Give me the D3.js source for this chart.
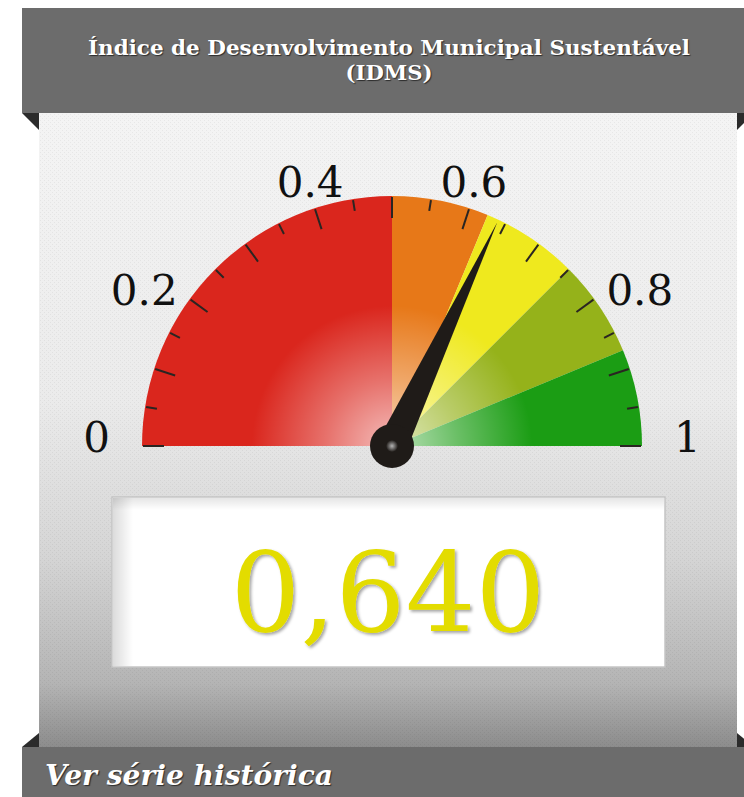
<!DOCTYPE html>
<html>
<head>
<meta charset="utf-8">
<script src="https://cdn.jsdelivr.net/npm/d3@7"></script>
<style>
  body { margin: 0; background: #fff; }
  svg { display: block; }
</style>
</head>
<body>
<div id="chart"></div>
<script>
// gauge data
var bandLimits = [0, 0.5, 0.625, 0.75, 0.875, 1];
var bandColors = ["#da261d", "#e77818", "#efe91e", "#95b21a", "#1b9d14"];
var tickValues = d3.range(0, 21).map(function (i) { return i / 20; });
var labelValues = [0, 0.2, 0.4, 0.6, 0.8, 1];
var labelTexts = ["0", "0.2", "0.4", "0.6", "0.8", "1"];
var idmsValue = 0.640;
var idmsText = "0,640";
var titleLines = ["Índice de Desenvolvimento Municipal Sustentável", "(IDMS)"];
var footerText = "Ver série histórica";

var w = 744;
var h = 797;
var cx = 392, cy = 446, r = 250;

var svg = d3.select("#chart")
    .append("svg")
    .attr("width", w)
    .attr("height", h);

var defs = svg.append("defs");

var bodyGrad = defs.append("linearGradient")
    .attr("id", "bodyGrad")
    .attr("x1", 0).attr("y1", 0).attr("x2", 0).attr("y2", 1);
[[0, "#f4f4f4"], [0.45, "#ebebeb"], [0.7, "#d5d5d5"], [0.9, "#b4b4b4"], [1, "#8c8c8c"]].forEach(function (s) {
    bodyGrad.append("stop").attr("offset", s[0]).attr("stop-color", s[1]);
});

var hatch = defs.append("pattern")
    .attr("id", "hatch")
    .attr("width", 4).attr("height", 4)
    .attr("patternUnits", "userSpaceOnUse");
hatch.append("rect").attr("x", 0).attr("y", 0).attr("width", 1).attr("height", 1).attr("fill", "rgba(0,0,0,0.05)");
hatch.append("rect").attr("x", 2).attr("y", 2).attr("width", 1).attr("height", 1).attr("fill", "rgba(0,0,0,0.05)");

// glow is drawn inside the translated gauge group, so it is centred on 0,0
var glow = defs.append("radialGradient")
    .attr("id", "glow")
    .attr("gradientUnits", "userSpaceOnUse")
    .attr("cx", 0).attr("cy", 0).attr("r", 165);
glow.append("stop").attr("offset", 0).attr("stop-color", "#fff").attr("stop-opacity", 0.7);
glow.append("stop").attr("offset", 0.4).attr("stop-color", "#fff").attr("stop-opacity", 0.35);
glow.append("stop").attr("offset", 0.85).attr("stop-color", "#fff").attr("stop-opacity", 0);

var hubGrad = defs.append("radialGradient").attr("id", "hubGrad");
hubGrad.append("stop").attr("offset", 0).attr("stop-color", "#b5b5b5");
hubGrad.append("stop").attr("offset", 1).attr("stop-color", "#1f1b18");

var leftShade = defs.append("linearGradient").attr("id", "leftShade")
    .attr("x1", 0).attr("y1", 0).attr("x2", 1).attr("y2", 0);
leftShade.append("stop").attr("offset", 0).attr("stop-color", "#000").attr("stop-opacity", 0.14);
leftShade.append("stop").attr("offset", 1).attr("stop-color", "#000").attr("stop-opacity", 0);
var topShade = defs.append("linearGradient").attr("id", "topShade")
    .attr("x1", 0).attr("y1", 0).attr("x2", 0).attr("y2", 1);
topShade.append("stop").attr("offset", 0).attr("stop-color", "#000").attr("stop-opacity", 0.10);
topShade.append("stop").attr("offset", 1).attr("stop-color", "#000").attr("stop-opacity", 0);

var textShadow = defs.append("filter").attr("id", "tshadow")
    .attr("x", "-10%").attr("y", "-10%").attr("width", "120%").attr("height", "130%");
textShadow.append("feDropShadow")
    .attr("dx", 2).attr("dy", 2).attr("stdDeviation", 1.5)
    .attr("flood-color", "#000").attr("flood-opacity", 0.35);

// card body
svg.append("rect")
    .attr("x", 39).attr("y", 113).attr("width", 698).attr("height", 634)
    .attr("fill", "url(#bodyGrad)");
svg.append("rect")
    .attr("x", 39).attr("y", 113).attr("width", 698).attr("height", 634)
    .attr("fill", "url(#hatch)");

// folded corners
svg.append("path").attr("d", "M22,113 L39,113 L39,130 Z").attr("fill", "#2b2b2b");
svg.append("path").attr("d", "M737,113 L754,113 L737,130 Z").attr("fill", "#2b2b2b");
svg.append("path").attr("d", "M22,747 L39,733 L39,747 Z").attr("fill", "#2b2b2b");
svg.append("path").attr("d", "M737,733 L754,747 L737,747 Z").attr("fill", "#2b2b2b");

// header
svg.append("rect")
    .attr("x", 22).attr("y", 8).attr("width", 732).attr("height", 105)
    .attr("fill", "#6c6c6c");
svg.selectAll(".title")
    .data(titleLines)
    .enter()
    .append("text")
    .attr("class", "title")
    .attr("x", 389)
    .attr("y", function (d, i) { return 55 + i * 25; })
    .attr("text-anchor", "middle")
    .attr("font-family", "'DejaVu Serif', 'Liberation Serif', serif")
    .attr("font-weight", "bold")
    .attr("font-size", 21)
    .attr("fill", "#fff")
    .attr("textLength", function (d, i) { return i == 0 ? 602 : 87; })
    .attr("lengthAdjust", "spacingAndGlyphs")
    .style("text-shadow", "1px 1px 1px rgba(0,0,0,0.6)")
    .text(function (d) { return d; });

// footer
svg.append("rect")
    .attr("x", 22).attr("y", 747).attr("width", 732).attr("height", 60)
    .attr("fill", "#6c6c6c");
svg.append("text")
    .attr("x", 45).attr("y", 785)
    .attr("font-family", "'DejaVu Serif', 'Liberation Serif', serif")
    .attr("font-weight", "bold")
    .attr("font-style", "italic")
    .attr("font-size", 27)
    .attr("fill", "#fff")
    .attr("textLength", 288)
    .attr("lengthAdjust", "spacingAndGlyphs")
    .style("text-shadow", "1px 1px 1px rgba(0,0,0,0.6)")
    .text(footerText);

// gauge
var angle = d3.scaleLinear().domain([0, 1]).range([-Math.PI / 2, Math.PI / 2]);
var arc = d3.arc().innerRadius(0).outerRadius(r);

var gauge = svg.append("g").attr("transform", "translate(" + cx + "," + cy + ")");

var bands = d3.range(bandColors.length).map(function (i) {
    return { start: bandLimits[i], end: bandLimits[i + 1], color: bandColors[i] };
});

gauge.selectAll(".band")
    .data(bands)
    .enter()
    .append("path")
    .attr("class", "band")
    .attr("d", function (d) {
        return arc({ startAngle: angle(d.start), endAngle: angle(d.end) });
    })
    .attr("fill", function (d) { return d.color; });

// light glow near the centre
gauge.append("path")
    .attr("d", arc({ startAngle: angle(0), endAngle: angle(1) }))
    .attr("fill", "url(#glow)");

// ticks
gauge.selectAll(".tick")
    .data(tickValues)
    .enter()
    .append("line")
    .attr("class", "tick")
    .each(function (d, i) {
        var a = angle(d) - Math.PI / 2;
        var r1 = r - 1;
        var r0 = (i % 2 == 0) ? r - 22 : r - 12;
        d3.select(this)
            .attr("x1", r0 * Math.cos(a)).attr("y1", r0 * Math.sin(a))
            .attr("x2", r1 * Math.cos(a)).attr("y2", r1 * Math.sin(a));
    })
    .attr("stroke", "#2a2522")
    .attr("stroke-width", 2);

// labels
gauge.selectAll(".label")
    .data(labelValues)
    .enter()
    .append("text")
    .attr("class", "label")
    .each(function (d, i) {
        var a = angle(d) - Math.PI / 2;
        var ends = (d == 0 || d == 1);
        var rl = ends ? 282 : 265;
        var px = rl * Math.cos(a), py = rl * Math.sin(a);
        var anchor = "middle", dy = 3;
        if (Math.abs(Math.cos(a)) > 0.5) {
            anchor = px < 0 ? "end" : "start";
            dy = ends ? 6 : 15;
        }
        d3.select(this)
            .attr("x", px).attr("y", py + dy)
            .attr("text-anchor", anchor)
            .text(labelTexts[i]);
    })
    .attr("font-family", "'DejaVu Serif', 'Liberation Serif', serif")
    .attr("font-size", 42)
    .attr("fill", "#111");

// needle
var na = angle(idmsValue) - Math.PI / 2;
var tipR = 247, baseW = 15;
var needlePts = [
    [tipR * Math.cos(na), tipR * Math.sin(na)],
    [baseW * Math.cos(na + Math.PI / 2), baseW * Math.sin(na + Math.PI / 2)],
    [baseW * Math.cos(na - Math.PI / 2), baseW * Math.sin(na - Math.PI / 2)]
];
gauge.append("path")
    .attr("d", d3.line()(needlePts) + "Z")
    .attr("fill", "#1f1b18");
gauge.append("circle").attr("r", 22).attr("fill", "#1f1b18");
gauge.append("circle").attr("r", 6).attr("fill", "url(#hubGrad)");

// value box
svg.append("rect")
    .attr("x", 112).attr("y", 497).attr("width", 553).attr("height", 170)
    .attr("fill", "#fff")
    .attr("stroke", "#c4c4c4")
    .attr("stroke-width", 1.5);
svg.append("rect")
    .attr("x", 113).attr("y", 498).attr("width", 20).attr("height", 168)
    .attr("fill", "url(#leftShade)");
svg.append("rect")
    .attr("x", 113).attr("y", 498).attr("width", 551).attr("height", 12)
    .attr("fill", "url(#topShade)");

svg.append("text")
    .attr("x", 388).attr("y", 631)
    .attr("text-anchor", "middle")
    .attr("font-family", "'DejaVu Serif', 'Liberation Serif', serif")
    .attr("font-size", 110)
    .attr("fill", "#e3dc00")
    .attr("filter", "url(#tshadow)")
    .text(idmsText);
</script>
</body>
</html>
